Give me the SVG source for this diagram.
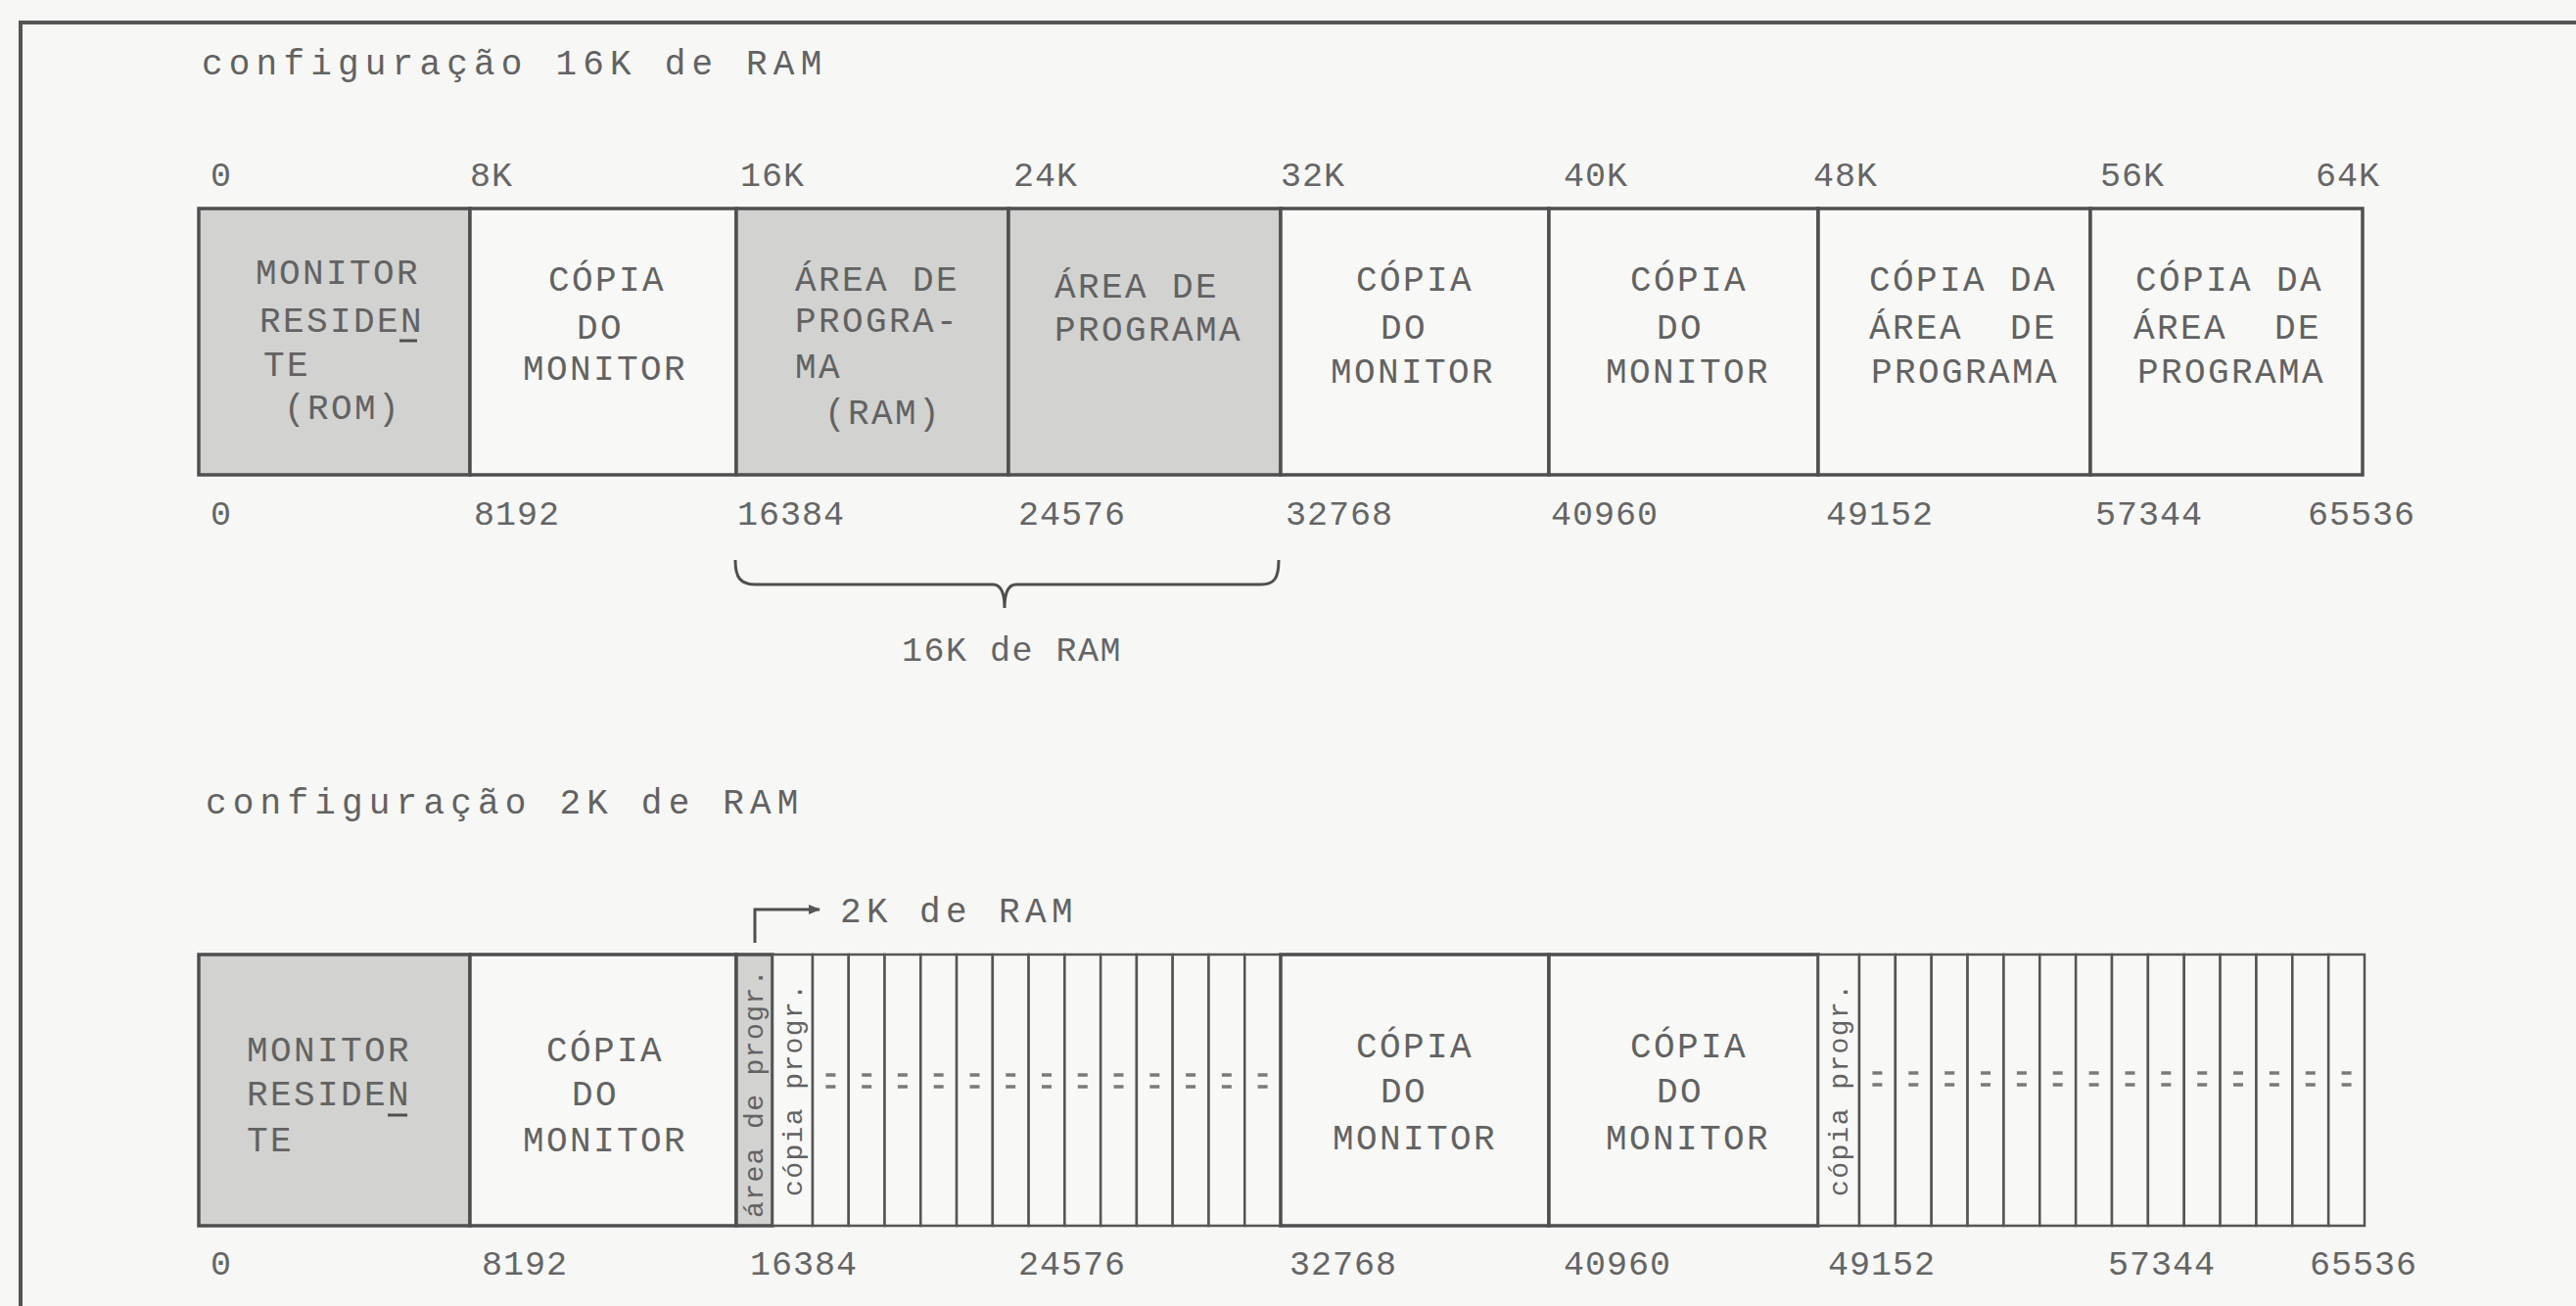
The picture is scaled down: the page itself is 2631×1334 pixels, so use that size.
<svg xmlns="http://www.w3.org/2000/svg" width="2631" height="1334" viewBox="0 0 2631 1334">
<style>
.bg{fill:#f7f7f5}
.frame{stroke:#555;stroke-width:4;fill:none}
.box{fill:#f8f8f6;stroke:#4f4f4f;stroke-width:3.5}
.sh{fill:#d2d2d0}
.ln{stroke:#4f4f4f;stroke-width:3;fill:none}
.t{font-family:"Liberation Mono","DejaVu Sans Mono",monospace;font-size:36px;fill:#626262;letter-spacing:2.4px;white-space:pre}
.lbl{font-family:"Liberation Mono","DejaVu Sans Mono",monospace;font-size:35px;fill:#656565;letter-spacing:1px}
.ttl{font-family:"Liberation Mono","DejaVu Sans Mono",monospace;font-size:36px;fill:#626262;letter-spacing:6.2px}
.rot{font-family:"Liberation Mono","DejaVu Sans Mono",monospace;font-size:28px;fill:#626262;letter-spacing:1.4px}
.cell{fill:#f8f8f6;stroke:#555;stroke-width:2.5}
.eq{stroke:#7a7a7a;stroke-width:3.5}
</style>
<defs>
<g id="eq" class="eq"><line x1="-5" y1="0" x2="5" y2="0"/><line x1="-5" y1="12" x2="5" y2="12"/></g>
<marker id="ah" markerWidth="12" markerHeight="10" refX="11" refY="5" orient="auto" markerUnits="userSpaceOnUse" viewBox="0 0 12 10"><path d="M0,0 L12,5 L0,10 Z" fill="#555"/></marker>
</defs>
<rect class="bg" x="0" y="0" width="2631" height="1334"/>
<g id="frame"><path class="frame" d="M21,1334 L21,23 L2631,23"/></g>

<!-- Titles -->
<text id="title16" class="ttl" x="206" y="76">configuração 16K de RAM</text>
<text id="title2" class="ttl" x="210" y="831">configuração 2K de RAM</text>

<!-- Top scale labels -->
<g id="top-k-labels" class="lbl">
<text x="215" y="190">0</text><text x="480" y="190">8K</text><text x="756" y="190">16K</text><text x="1035" y="190">24K</text><text x="1308" y="190">32K</text><text x="1597" y="190">40K</text><text x="1852" y="190">48K</text><text x="2145" y="190">56K</text><text x="2365" y="190">64K</text>
</g>
<g id="top-addr-labels" class="lbl">
<text x="215" y="536">0</text><text x="484" y="536">8192</text><text x="753" y="536">16384</text><text x="1040" y="536">24576</text><text x="1313" y="536">32768</text><text x="1584" y="536">40960</text><text x="1865" y="536">49152</text><text x="2140" y="536">57344</text><text x="2357" y="536">65536</text>
</g>

<!-- Top diagram nodes -->
<g id="t-monitor">
<rect class="box sh" x="203" y="213" width="277" height="272"/>
<text class="t" x="261" y="290">MONITOR</text><text class="t" x="265" y="339">RESIDEN</text>
<line class="ln" x1="408" y1="348" x2="426" y2="348" stroke-width="2.5"/>
<text class="t" x="269" y="384">TE</text><text class="t" x="290" y="428">(ROM)</text>
</g>
<g id="t-copia1">
<rect class="box" x="480" y="213" width="272" height="272"/>
<text class="t" x="560" y="297">CÓPIA</text><text class="t" x="589" y="346">DO</text><text class="t" x="534" y="388">MONITOR</text>
</g>
<g id="t-area1">
<rect class="box sh" x="752" y="213" width="278" height="272"/>
<text class="t" x="812" y="297">ÁREA DE</text><text class="t" x="812" y="339">PROGRA-</text><text class="t" x="812" y="386">MA</text><text class="t" x="842" y="433">(RAM)</text>
</g>
<g id="t-area2">
<rect class="box sh" x="1030" y="213" width="278" height="272"/>
<text class="t" x="1077" y="304">ÁREA DE</text><text class="t" x="1077" y="348">PROGRAMA</text>
</g>
<g id="t-copia2">
<rect class="box" x="1308" y="213" width="274" height="272"/>
<text class="t" x="1385" y="297">CÓPIA</text><text class="t" x="1410" y="346">DO</text><text class="t" x="1359" y="391">MONITOR</text>
</g>
<g id="t-copia3">
<rect class="box" x="1582" y="213" width="275" height="272"/>
<text class="t" x="1665" y="297">CÓPIA</text><text class="t" x="1692" y="346">DO</text><text class="t" x="1640" y="391">MONITOR</text>
</g>
<g id="t-copia4">
<rect class="box" x="1857" y="213" width="278" height="272"/>
<text class="t" x="1909" y="297">CÓPIA DA</text><text class="t" x="1909" y="346" xml:space="preserve">ÁREA  DE</text><text class="t" x="1911" y="391">PROGRAMA</text>
</g>
<g id="t-copia5">
<rect class="box" x="2135" y="213" width="278" height="272"/>
<text class="t" x="2181" y="297">CÓPIA DA</text><text class="t" x="2179" y="346" xml:space="preserve">ÁREA  DE</text><text class="t" x="2183" y="391">PROGRAMA</text>
</g>

<text id="lbl16k" class="lbl" x="921" y="675" style="letter-spacing:1.5px">16K de RAM</text>

<!-- Bottom diagram nodes -->
<g id="b-monitor">
<rect class="box sh" x="203" y="975" width="277" height="277"/>
<text class="t" x="252" y="1084">MONITOR</text><text class="t" x="252" y="1129">RESIDEN</text>
<line class="ln" x1="396" y1="1139" x2="416" y2="1139" stroke-width="2.5"/>
<text class="t" x="252" y="1176">TE</text>
</g>
<g id="b-copia1">
<rect class="box" x="480" y="975" width="272" height="277"/>
<text class="t" x="558" y="1084">CÓPIA</text><text class="t" x="584" y="1129">DO</text><text class="t" x="534" y="1176">MONITOR</text>
</g>
<g id="b-area">
<rect class="box sh" x="752" y="975" width="37" height="277"/>
<text class="rot" transform="translate(779,1244) rotate(-90)">área de progr.</text>
</g>
<g id="b-copiaprog1">
<rect class="cell" x="789" y="975" width="41" height="277"/>
<text class="rot" transform="translate(819,1222) rotate(-90)">cópia progr.</text>
</g>
<g id="b-cells1">
<rect class="cell" x="830" y="975" width="36.77" height="277"/><rect class="cell" x="866.77" y="975" width="36.77" height="277"/><rect class="cell" x="903.54" y="975" width="36.77" height="277"/><rect class="cell" x="940.31" y="975" width="36.77" height="277"/><rect class="cell" x="977.08" y="975" width="36.77" height="277"/><rect class="cell" x="1013.85" y="975" width="36.77" height="277"/><rect class="cell" x="1050.62" y="975" width="36.77" height="277"/><rect class="cell" x="1087.39" y="975" width="36.77" height="277"/><rect class="cell" x="1124.16" y="975" width="36.77" height="277"/><rect class="cell" x="1160.93" y="975" width="36.77" height="277"/><rect class="cell" x="1197.7" y="975" width="36.77" height="277"/><rect class="cell" x="1234.47" y="975" width="36.77" height="277"/><rect class="cell" x="1271.24" y="975" width="36.76" height="277"/>
<use href="#eq" x="848.4" y="1098"/><use href="#eq" x="885.2" y="1098"/><use href="#eq" x="921.9" y="1098"/><use href="#eq" x="958.7" y="1098"/><use href="#eq" x="995.5" y="1098"/><use href="#eq" x="1032.2" y="1098"/><use href="#eq" x="1069" y="1098"/><use href="#eq" x="1105.8" y="1098"/><use href="#eq" x="1142.5" y="1098"/><use href="#eq" x="1179.3" y="1098"/><use href="#eq" x="1216.1" y="1098"/><use href="#eq" x="1252.9" y="1098"/><use href="#eq" x="1289.6" y="1098"/>
</g>
<g id="b-copia2">
<rect class="box" x="1308" y="975" width="274" height="277"/>
<text class="t" x="1385" y="1080">CÓPIA</text><text class="t" x="1410" y="1126">DO</text><text class="t" x="1361" y="1174">MONITOR</text>
</g>
<g id="b-copia3">
<rect class="box" x="1582" y="975" width="275" height="277"/>
<text class="t" x="1665" y="1080">CÓPIA</text><text class="t" x="1692" y="1126">DO</text><text class="t" x="1640" y="1174">MONITOR</text>
</g>
<g id="b-copiaprog2">
<rect class="cell" x="1857" y="975" width="42" height="277"/>
<text class="rot" transform="translate(1887,1222) rotate(-90)">cópia progr.</text>
</g>
<g id="b-cells2">
<rect class="cell" x="1899" y="975" width="36.86" height="277"/><rect class="cell" x="1935.86" y="975" width="36.86" height="277"/><rect class="cell" x="1972.72" y="975" width="36.86" height="277"/><rect class="cell" x="2009.58" y="975" width="36.86" height="277"/><rect class="cell" x="2046.44" y="975" width="36.86" height="277"/><rect class="cell" x="2083.3" y="975" width="36.86" height="277"/><rect class="cell" x="2120.16" y="975" width="36.86" height="277"/><rect class="cell" x="2157.02" y="975" width="36.86" height="277"/><rect class="cell" x="2193.88" y="975" width="36.86" height="277"/><rect class="cell" x="2230.74" y="975" width="36.86" height="277"/><rect class="cell" x="2267.6" y="975" width="36.86" height="277"/><rect class="cell" x="2304.46" y="975" width="36.86" height="277"/><rect class="cell" x="2341.32" y="975" width="36.86" height="277"/><rect class="cell" x="2378.18" y="975" width="36.82" height="277"/>
<use href="#eq" x="1917.4" y="1096"/><use href="#eq" x="1954.3" y="1096"/><use href="#eq" x="1991.2" y="1096"/><use href="#eq" x="2028" y="1096"/><use href="#eq" x="2064.9" y="1096"/><use href="#eq" x="2101.7" y="1096"/><use href="#eq" x="2138.6" y="1096"/><use href="#eq" x="2175.5" y="1096"/><use href="#eq" x="2212.3" y="1096"/><use href="#eq" x="2249.2" y="1096"/><use href="#eq" x="2286" y="1096"/><use href="#eq" x="2322.9" y="1096"/><use href="#eq" x="2359.8" y="1096"/><use href="#eq" x="2396.6" y="1096"/>
</g>

<text id="lbl2k" class="ttl" x="858" y="942" style="letter-spacing:5.4px">2K de RAM</text>

<g id="bottom-addr-labels" class="lbl">
<text x="215" y="1302">0</text><text x="492" y="1302">8192</text><text x="766" y="1302">16384</text><text x="1040" y="1302">24576</text><text x="1317" y="1302">32768</text><text x="1597" y="1302">40960</text><text x="1867" y="1302">49152</text><text x="2153" y="1302">57344</text><text x="2359" y="1302">65536</text>
</g>

<!-- Connectors -->
<g id="connectors">
<path class="ln" d="M751,572 C751,590 756,597 772,597 L1014,597 C1022,597 1026,605 1026,621 C1026,605 1030,597 1038,597 L1288,597 C1302,597 1306,590 1306,572"/>
<path class="ln" d="M771,963 L771,929 L837,929" marker-end="url(#ah)"/>
</g>
</svg>
